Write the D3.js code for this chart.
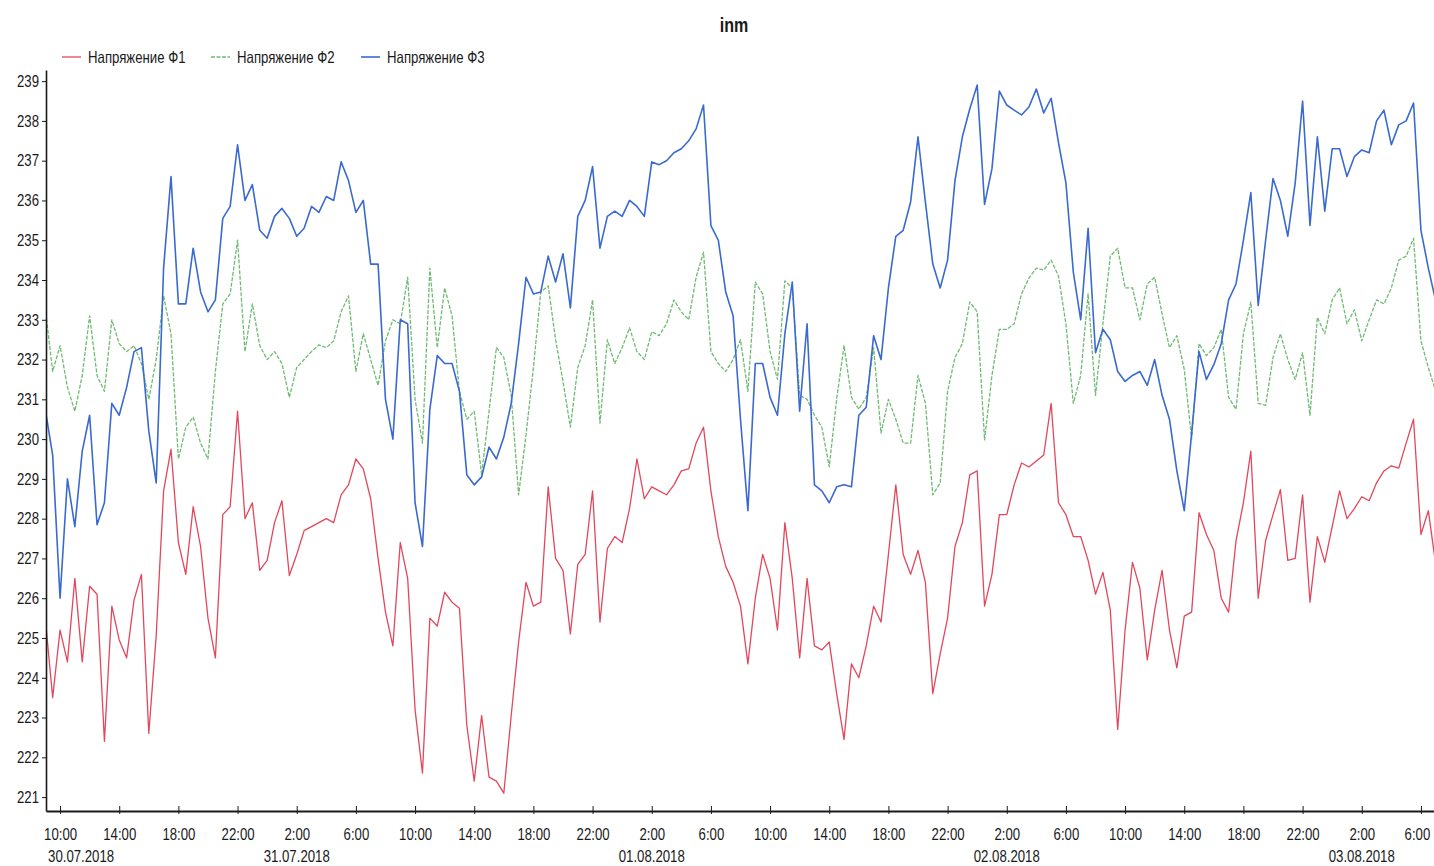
<!DOCTYPE html>
<html>
<head>
<meta charset="utf-8">
<script src="https://cdn.jsdelivr.net/npm/d3@7"></script>
<style>
html,body{margin:0;padding:0;background:#fff;}
svg text{font-family:"Liberation Sans",Arial,sans-serif;fill:#1a1a1a;}
</style>
</head>
<body>
<svg id="chart" width="1434" height="866"></svg>
<script>
// ---------------- DATA ----------------
const chartTitle = "inm";
const seriesNames = ["Напряжение Ф1", "Напряжение Ф2", "Напряжение Ф3"];
const seriesColors = ["#e2475c", "#6fbb72", "#3a6ad0"];
const startTime = "2018-07-30 09:00";   // first sample
const stepMinutes = 30;                  // sampling step

const phase1 = [
225.5,223.5,225.2,224.4,226.5,224.4,226.3,226.1,222.4,225.8,
224.95,224.5,225.95,226.6,222.6,225.06,228.7,229.75,227.4,226.6,
228.3,227.3,225.5,224.5,228.1,228.3,230.7,228.0,228.4,226.7,
226.95,227.9,228.45,226.57,227.1,227.7,227.8,227.9,228.0,227.9,
228.6,228.85,229.5,229.25,228.5,227.0,225.65,224.8,
227.4,226.5,223.2,221.6,225.5,225.3,226.15,225.9,225.75,222.8,
221.4,223.05,221.5,221.4,221.1,223.05,224.9,226.4,225.8,225.9,
228.8,227.0,226.7,225.1,226.85,227.1,228.7,225.4,227.25,227.55,
227.4,228.25,229.5,228.5,228.8,228.7,228.6,228.85,229.2,229.25,
229.9,230.3,228.7,227.55,226.8,226.4,225.8,
224.35,226.0,227.1,226.5,225.2,227.9,226.5,224.5,226.5,224.8,
224.7,224.9,223.6,222.45,224.35,224.0,224.8,225.8,225.4,227.1,
228.85,227.1,226.6,227.2,226.4,223.6,224.6,225.5,227.3,227.9,
229.1,229.2,225.8,226.6,228.1,228.1,228.85,229.4,229.3,229.45,
229.6,230.9,228.4,228.1,227.55,227.55,226.95,226.1,
226.65,225.7,222.7,225.2,226.9,226.25,224.45,225.7,226.7,225.2,
224.25,225.55,225.65,228.15,227.6,227.2,226.0,225.65,227.45,228.4,
229.7,226.0,227.45,228.1,228.73,226.95,227.0,228.6,225.9,227.55,
226.9,227.8,228.7,228.0,228.25,228.55,228.45,228.9,229.2,229.33,
229.27,229.9,230.5,227.6,228.2,226.85
];

const phase2 = [
233.3,231.7,232.35,231.3,230.7,231.6,233.1,231.6,231.2,233.0,
232.4,232.2,232.35,231.9,231.0,232.0,233.6,232.65,229.5,230.3,
230.55,229.9,229.5,231.7,233.4,233.65,235.0,232.2,233.4,232.35,
232.0,232.2,231.9,231.05,231.8,232.0,232.2,232.37,232.3,232.47,
233.2,233.6,231.7,232.65,232.0,231.35,232.47,233.0,
232.9,234.07,231.0,229.9,234.3,232.3,233.8,233.1,231.2,230.5,
230.7,229.1,230.7,232.3,232.05,231.1,228.6,230.1,231.8,233.7,
233.85,232.5,231.45,230.3,231.8,232.35,233.5,230.4,232.5,231.9,
232.3,232.8,232.2,232.0,232.7,232.6,232.9,233.5,233.2,233.0,
234.07,234.7,232.2,231.9,231.7,232.0,232.5,
231.2,233.95,233.65,232.2,231.5,233.98,233.8,231.1,231.0,230.6,
230.3,229.3,231.0,232.35,231.05,230.75,231.05,232.3,230.15,231.0,
230.5,229.9,229.9,231.6,230.9,228.6,228.9,231.2,232.05,232.4,
233.45,233.2,229.98,231.6,232.76,232.76,232.9,233.65,234.05,234.3,
234.25,234.5,234.1,232.9,230.9,231.6,233.65,231.1,
232.9,234.6,234.8,233.8,233.8,233.0,233.9,234.07,233.15,232.3,
232.6,231.75,230.0,232.4,232.1,232.3,232.76,231.05,230.75,232.65,
233.45,230.9,230.85,232.05,232.65,232.0,231.5,232.17,230.6,233.06,
232.65,233.5,233.8,232.9,233.25,232.47,233.0,233.5,233.4,233.8,
234.5,234.6,235.05,232.47,231.8,231.2
];

const phase3 = [
230.75,229.6,226.0,229.0,227.8,229.7,230.6,227.85,228.4,230.9,
230.6,231.3,232.2,232.3,230.2,228.9,234.3,236.6,233.4,233.4,
234.8,233.7,233.2,233.5,235.55,235.85,237.4,236.0,236.4,235.25,
235.05,235.6,235.8,235.55,235.1,235.3,235.85,235.7,236.1,236.0,
236.97,236.5,235.7,236.0,234.4,234.4,231.0,230.0,
233.0,232.9,228.4,227.3,230.75,232.1,231.9,231.9,231.2,229.1,
228.85,229.05,229.8,229.5,230.05,230.9,232.4,234.07,233.65,233.7,
234.6,233.95,234.66,233.3,235.6,236.0,236.85,234.8,235.6,235.73,
235.6,236.0,235.85,235.6,236.97,236.9,237.0,237.2,237.3,237.5,
237.8,238.4,235.37,235.0,233.7,233.1,230.5,
228.2,231.9,231.9,231.05,230.6,232.65,233.95,230.7,232.9,228.85,
228.7,228.4,228.8,228.85,228.8,230.6,230.8,232.6,232.0,233.8,
235.1,235.25,235.96,237.6,235.96,234.4,233.8,234.5,236.5,237.6,
238.3,238.9,235.9,236.8,238.75,238.4,238.27,238.15,238.35,238.8,
238.2,238.57,237.45,236.44,234.2,233.0,235.3,232.17,
232.76,232.5,231.7,231.45,231.6,231.7,231.35,232.0,231.1,230.5,
229.2,228.2,230.15,232.2,231.5,231.87,232.4,233.5,233.9,235.0,
236.2,233.36,235.0,236.55,236.0,235.1,236.44,238.5,235.37,237.6,
235.73,237.3,237.3,236.6,237.1,237.27,237.2,238.0,238.27,237.4,
237.9,238.0,238.45,235.25,234.3,233.47
];

const yTickValues = [221,222,223,224,225,226,227,228,229,230,231,232,233,234,235,236,237,238,239];
const xTickStart = "2018-07-30 10:00";
const xTickStepHours = 4;
const xTickCount = 24;
const dateLabels = [
  {time: "2018-07-30 10:00", label: "30.07.2018"},
  {time: "2018-07-31 02:00", label: "31.07.2018"},
  {time: "2018-08-01 02:00", label: "01.08.2018"},
  {time: "2018-08-02 02:00", label: "02.08.2018"},
  {time: "2018-08-03 02:00", label: "03.08.2018"}
];
const xDomain = ["2018-07-30 09:03", "2018-08-03 06:53"];
const yDomain = [220.65, 239.28];

// ---------------- CHART ----------------
const parse = d3.timeParse("%Y-%m-%d %H:%M");
const t0 = parse(startTime);
const allSeries = [phase1, phase2, phase3].map((vals, i) => ({
  name: seriesNames[i],
  color: seriesColors[i],
  values: vals.map((v, k) => ({t: d3.timeMinute.offset(t0, k * stepMinutes), v}))
}));

const svg = d3.select("#chart");
const plot = {left: 46, right: 1434, top: 70, bottom: 811};
const FONT = '"Liberation Sans",Arial,sans-serif';

const x = d3.scaleTime().domain(xDomain.map(parse)).range([plot.left, plot.right]);
const y = d3.scaleLinear().domain(yDomain).range([plot.bottom, plot.top]);

// title
svg.append("text").attr("x", 734).attr("y", 32).attr("text-anchor", "middle")
  .style("font-size", "20px").style("font-weight", "bold").text(chartTitle);

// legend
const legendX = [62, 211, 361];
allSeries.forEach((s, i) => {
  const g = svg.append("g").attr("transform", `translate(${legendX[i]},57)`);
  g.append("line").attr("x1", 0).attr("x2", 19).attr("y1", 0).attr("y2", 0)
    .attr("stroke", s.color).attr("stroke-width", i === 2 ? 1.6 : 1.3)
    .attr("stroke-dasharray", i === 1 ? "4,1.5" : null);
  g.append("text").attr("x", 26).attr("y", 6).style("font-size", "16.5px").text(s.name);
});

// lines
const line = d3.line().x(d => x(d.t)).y(d => y(d.v));
svg.append("clipPath").attr("id", "clip").append("rect")
  .attr("x", plot.left).attr("y", plot.top - 10).attr("width", plot.right - plot.left + 10).attr("height", plot.bottom - plot.top + 10);
const lines = svg.append("g").attr("clip-path", "url(#clip)");
[0, 1, 2].forEach(i => {
  const s = allSeries[i];
  lines.append("path").datum(s.values)
    .attr("fill", "none")
    .attr("stroke", s.color)
    .attr("stroke-width", i === 2 ? 1.6 : 1.3)
    .attr("stroke-linejoin", "round")
    .attr("stroke-dasharray", i === 1 ? "4,1.5" : null)
    .attr("d", line);
});

// y axis
const yAxis = d3.axisLeft(y).tickValues(yTickValues).tickSizeInner(4).tickSizeOuter(0)
  .tickPadding(3).tickFormat(d3.format("d"));
const gy = svg.append("g").attr("transform", `translate(${plot.left},0)`).call(yAxis);
gy.select(".domain").attr("stroke", "#1a1a1a").attr("stroke-width", 1.6);
gy.selectAll(".tick line").attr("stroke", "#1a1a1a");
gy.selectAll(".tick text").style("font-size", "16.5px").attr("fill", "#1a1a1a").style("font-family", FONT);

// x axis
const xTicks = d3.range(xTickCount).map(k => d3.timeHour.offset(parse(xTickStart), k * xTickStepHours));
const xAxis = d3.axisBottom(x).tickValues(xTicks).tickSizeInner(-5).tickSizeOuter(0)
  .tickPadding(17).tickFormat(d3.timeFormat("%-H:%M"));
const gx = svg.append("g").attr("transform", `translate(0,${plot.bottom})`).call(xAxis);
gx.select(".domain").attr("stroke", "#1a1a1a").attr("stroke-width", 1.8);
gx.selectAll(".tick line").attr("stroke", "#1a1a1a").attr("y1", 3);
gx.selectAll(".tick text").style("font-size", "16.5px").attr("fill", "#1a1a1a").style("font-family", FONT);
// keep the last, edge label inside the picture (as in the original)
gx.selectAll(".tick text").filter((d, i, n) => i === n.length - 1).attr("dx", -4);

// date labels
dateLabels.forEach((d, i) => {
  svg.append("text")
    .attr("x", i === 0 ? x(parse(d.time)) - 12 : x(parse(d.time)))
    .attr("y", 862)
    .attr("text-anchor", i === 0 ? "start" : "middle")
    .style("font-size", "16.5px")
    .text(d.label);
});

// condensed look of the original (narrow typeface)
svg.selectAll("text").each(function () {
  const L = this.getComputedTextLength();
  d3.select(this).attr("textLength", (L * 0.8).toFixed(1)).attr("lengthAdjust", "spacingAndGlyphs");
});
</script>
</body>
</html>
